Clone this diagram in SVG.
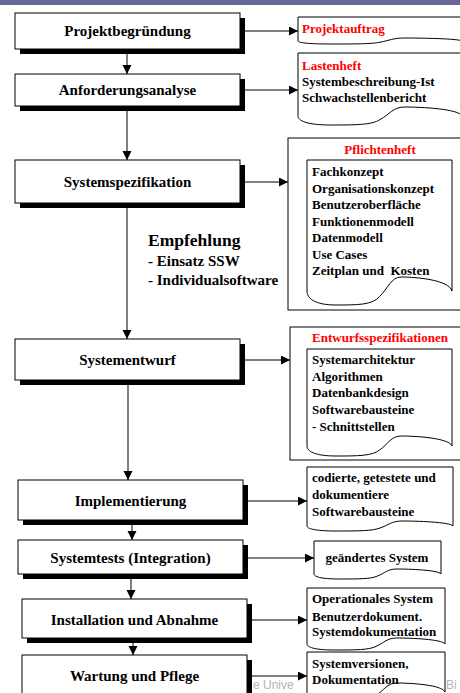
<svg xmlns="http://www.w3.org/2000/svg" width="460" height="693" viewBox="0 0 460 693">
<style>
.box{fill:#fff;stroke:#000;stroke-width:1}
.sh{fill:#000}
.doc{fill:#fff;stroke:#000;stroke-width:1}
.bt{font-family:"Liberation Serif","Times New Roman",serif;font-weight:bold;font-size:15px;text-anchor:middle;fill:#000}
.dt{font-family:"Liberation Serif","Times New Roman",serif;font-weight:bold;font-size:13px;fill:#000}
.red{fill:#f00}
.mid{text-anchor:middle}
.conn{stroke:#000;stroke-width:1;fill:none;marker-end:url(#ah)}
.wm{font-family:"Liberation Sans",Arial,sans-serif;font-size:12px;fill:#b4b4b4}
</style>
<defs>
<marker id="ah" markerUnits="userSpaceOnUse" markerWidth="10" markerHeight="10" refX="9" refY="4.5" orient="auto">
<path d="M0,0 L9,4.5 L0,9 Z" fill="#000"/>
</marker>
</defs>
<rect width="460" height="693" fill="#fff"/>
<rect x="0" y="0" width="460" height="5" fill="#666699"/>
<g id="watermark">
<text class="wm" x="253" y="689">e Unive</text>
<text class="wm" x="446" y="689">Bi</text>
</g>
<g id="connectors">
<line class="conn" x1="127" y1="54" x2="127" y2="74"/>
<line class="conn" x1="127" y1="111" x2="127" y2="160"/>
<line class="conn" x1="127" y1="208" x2="127" y2="339"/>
<line class="conn" x1="128" y1="385" x2="128" y2="480"/>
<line class="conn" x1="132" y1="525" x2="132" y2="540"/>
<line class="conn" x1="131" y1="579" x2="131" y2="599"/>
<line class="conn" x1="133" y1="643" x2="133" y2="655"/>
<line class="conn" x1="245" y1="31" x2="298" y2="31"/>
<line class="conn" x1="245" y1="90" x2="298" y2="90"/>
<line class="conn" x1="245" y1="182" x2="288" y2="182"/>
<line class="conn" x1="245" y1="360" x2="290" y2="360"/>
<line class="conn" x1="248" y1="501" x2="307" y2="501"/>
<line class="conn" x1="248" y1="558" x2="314" y2="558"/>
<line class="conn" x1="252" y1="620" x2="307" y2="620"/>
<line class="conn" x1="252" y1="676" x2="307" y2="676"/>
</g>
<g id="n1">
<rect class="sh" x="20" y="18" width="225" height="36"/>
<rect class="box" x="15" y="13" width="225" height="36"/>
<text class="bt" x="127.5" y="36">Projektbegründung</text>
</g>
<g id="n2">
<rect class="sh" x="20" y="79" width="225" height="32"/>
<rect class="box" x="15" y="74" width="225" height="32"/>
<text class="bt" x="127.5" y="95">Anforderungsanalyse</text>
</g>
<g id="n3">
<rect class="sh" x="20" y="165" width="225" height="43"/>
<rect class="box" x="15" y="160" width="225" height="43"/>
<text class="bt" x="127.5" y="187">Systemspezifikation</text>
</g>
<g id="n4">
<rect class="sh" x="20" y="344" width="225" height="41"/>
<rect class="box" x="15" y="339" width="225" height="41"/>
<text class="bt" x="127.5" y="365">Systementwurf</text>
</g>
<g id="n5">
<rect class="sh" x="23" y="485" width="225" height="40"/>
<rect class="box" x="18" y="480" width="225" height="40"/>
<text class="bt" x="130.5" y="506">Implementierung</text>
</g>
<g id="n6">
<rect class="sh" x="23" y="545" width="225" height="34"/>
<rect class="box" x="18" y="540" width="225" height="34"/>
<text class="bt" x="130.5" y="563">Systemtests (Integration)</text>
</g>
<g id="n7">
<rect class="sh" x="27" y="604" width="225" height="39"/>
<rect class="box" x="22" y="599" width="225" height="39"/>
<text class="bt" x="134.5" y="625">Installation und Abnahme</text>
</g>
<g id="n8">
<rect class="sh" x="27" y="660" width="225" height="45"/>
<rect class="box" x="22" y="655" width="225" height="45"/>
<text class="bt" x="134.5" y="681">Wartung und Pflege</text>
</g>
<g id="empfehlung">
<text class="bt" x="148" y="246" style="text-anchor:start;font-size:17.5px">Empfehlung</text>
<text class="bt" x="148" y="266" style="text-anchor:start">- Einsatz SSW</text>
<text class="bt" x="148" y="285" style="text-anchor:start">- Individualsoftware</text>
</g>
<g id="d1">
<path class="doc" d="M298,17 H462 V41 C458.7,38.6 421,38 404.6,38 C393.1,38 389.8,40.4 380,42.2 C371.8,44 355.4,44 330.8,44 C306.2,44 298,42.5 298,41 Z"/>
<text class="dt red" x="302" y="33">Projektauftrag</text>
</g>
<g id="d2">
<path class="doc" d="M298,53 H462 V116 C458.7,108.8 421,107 404.6,107 C393.1,107 389.8,114.2 380,119.6 C371.8,125 355.4,125 330.8,125 C306.2,125 298,120.5 298,116 Z"/>
<text class="dt red" x="302" y="70">Lastenheft</text>
<text class="dt" x="302" y="86">Systembeschreibung-Ist</text>
<text class="dt" x="302" y="102">Schwachstellenbericht</text>
</g>
<g id="d3">
<rect class="doc" x="288" y="138" width="200" height="172"/>
<text class="dt red mid" x="380" y="154">Pflichtenheft</text>
<path class="doc" d="M307,160 H452 V291 C449.1,279.8 415.75,277 401.25,277 C391.1,277 388.2,288.2 379.5,296.6 C372.25,305 357.75,305 336,305 C314.25,305 307,298 307,291 Z"/>
<text class="dt" x="312" y="176">Fachkonzept</text>
<text class="dt" x="312" y="192.5">Organisationskonzept</text>
<text class="dt" x="312" y="209">Benutzeroberfläche</text>
<text class="dt" x="312" y="225.5">Funktionenmodell</text>
<text class="dt" x="312" y="242">Datenmodell</text>
<text class="dt" x="312" y="258.5">Use Cases</text>
<text class="dt" x="312" y="275">Zeitplan und&#160; Kosten</text>
</g>
<g id="d4">
<rect class="doc" x="290" y="327" width="200" height="133"/>
<text class="dt red mid" x="380" y="342">Entwurfsspezifikationen</text>
<path class="doc" d="M307,349 H452 V446 C449.1,438 415.75,436 401.25,436 C391.1,436 388.2,444 379.5,450 C372.25,456 357.75,456 336,456 C314.25,456 307,451 307,446 Z"/>
<text class="dt" x="312" y="364">Systemarchitektur</text>
<text class="dt" x="312" y="380.7">Algorithmen</text>
<text class="dt" x="312" y="397.3">Datenbankdesign</text>
<text class="dt" x="312" y="414">Softwarebausteine</text>
<text class="dt" x="312" y="430.7">- Schnittstellen</text>
</g>
<g id="d5">
<path class="doc" d="M307,467 H453 V526 C450.1,522 416.5,521 401.9,521 C391.7,521 388.8,525 380,528 C372.7,531 358.1,531 336.2,531 C314.3,531 307,528.5 307,526 Z"/>
<text class="dt" x="312" y="482">codierte, getestete und</text>
<text class="dt" x="312" y="499">dokumentiere</text>
<text class="dt" x="312" y="516">Softwarebausteine</text>
</g>
<g id="d6">
<path class="doc" d="M314,541 H441 V574 C438.5,570 409.3,569 396.6,569 C387.7,569 385.1,573 377.5,576 C371.2,579 358.5,579 339.4,579 C320.4,579 314,576.5 314,574 Z"/>
<text class="dt mid" x="377" y="562">geändertes System</text>
</g>
<g id="d7">
<path class="doc" d="M307,588 H445 V644 C442.2,639.2 410.5,638 396.7,638 C387,638 384.3,642.8 376,646.4 C369.1,650 355.3,650 334.6,650 C313.9,650 307,647 307,644 Z"/>
<text class="dt" x="312" y="603">Operationales System</text>
<text class="dt" x="312" y="621">Benutzerdokument.</text>
<text class="dt" x="312" y="636">Systemdokumentation</text>
</g>
<g id="d8">
<path class="doc" d="M307,652 H445 V692 C442.2,684.8 410.5,683 396.7,683 C387,683 384.3,690.2 376,695.4 C369.1,701 355.3,701 334.6,701 C313.9,701 307,696.5 307,692 Z"/>
<text class="dt" x="312" y="668">Systemversionen,</text>
<text class="dt" x="312" y="684">Dokumentation</text>
</g>
</svg>
